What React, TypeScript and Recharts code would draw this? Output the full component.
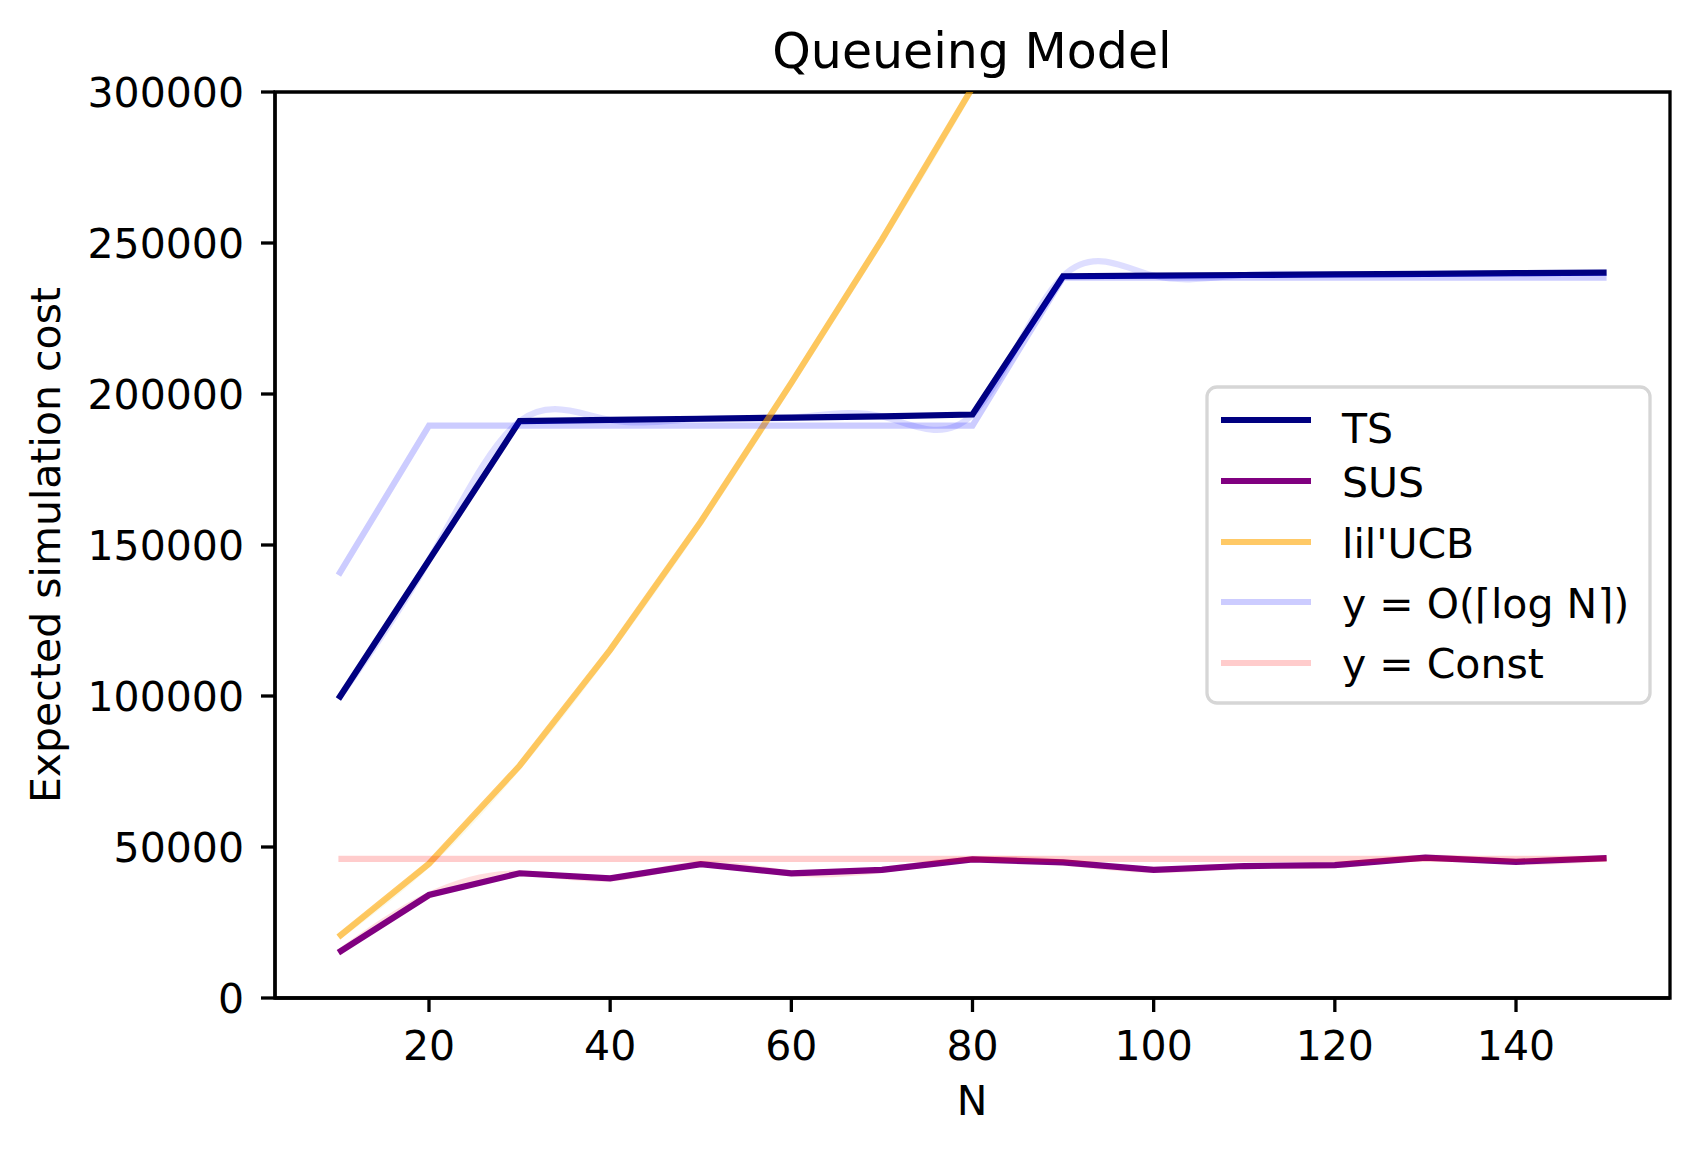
import { LineChart, Line, XAxis, YAxis, ReferenceArea } from 'recharts';

// N values on the x axis
const nValues = [10, 20, 30, 40, 50, 60, 70, 80, 90, 100, 110, 120, 130, 140, 150];

// expected simulation cost per method
const tsCost = [99000, 145000, 191000, 191400, 191800, 192200, 192600, 193200, 239000, 239200, 239400, 239600, 239800, 240000, 240200];
const susCost = [15000, 34100, 41300, 39600, 44300, 41300, 42400, 45900, 44900, 42400, 43700, 44000, 46500, 45100, 46300];
const ucbCost = [20200, 44500, 76900, 115300, 157700, 203700, 251100, 301500, 356000, 412000, 470000, 530000, 592000, 656000, 722000];

// reference curves
const logBound = [140000, 189500, 189500, 189500, 189500, 189500, 189500, 189500, 238500, 238500, 238500, 238500, 238500, 238500, 238500];
const constBound = [46100, 46100, 46100, 46100, 46100, 46100, 46100, 46100, 46100, 46100, 46100, 46100, 46100, 46100, 46100];

const xTicks = [20, 40, 60, 80, 100, 120, 140];
const yTicks = [0, 50000, 100000, 150000, 200000, 250000, 300000];

const data = nValues.map((n, i) => ({
  n,
  ts: tsCost[i],
  sus: susCost[i],
  ucb: ucbCost[i],
  logN: logBound[i],
  constant: constBound[i],
}));

const FONT = '"DejaVu Sans", Verdana, sans-serif';
const LW = 6.2;

const legendItems = [
  { label: 'TS', color: '#000080', opacity: 1, lineY: 420, textY: 443 },
  { label: 'SUS', color: '#800080', opacity: 1, lineY: 481, textY: 497 },
  { label: "lil'UCB", color: '#ffa500', opacity: 0.6, lineY: 542, textY: 558 },
  { label: 'y = O(\u2308log N\u2309)', color: '#0000ff', opacity: 0.2, lineY: 602, textY: 618 },
  { label: 'y = Const', color: '#ff0000', opacity: 0.2, lineY: 663, textY: 678 },
];

export default function App() {
  const tick = { fill: '#000', fontSize: 41, fontFamily: FONT };
  return (
    <div style={{ position: 'absolute', left: 0, top: 0, width: 1699, height: 1154, background: '#fff' }}>
      <LineChart
        width={1699}
        height={1154}
        data={data}
        margin={{ top: 92, right: 29, left: 75, bottom: 56 }}
      >
        <XAxis
          type="number"
          dataKey="n"
          domain={[3, 157]}
          ticks={xTicks}
          interval={0}
          allowDataOverflow
          height={100}
          tick={tick}
          tickSize={14}
          tickMargin={19}
          axisLine={{ stroke: '#000', strokeWidth: 3.3 }}
          tickLine={{ stroke: '#000', strokeWidth: 3.3 }}
        />
        <YAxis
          type="number"
          domain={[0, 300000]}
          ticks={yTicks}
          interval={0}
          allowDataOverflow
          width={200}
          tick={tick}
          tickSize={14}
          tickMargin={17}
          axisLine={{ stroke: '#000', strokeWidth: 3.3 }}
          tickLine={{ stroke: '#000', strokeWidth: 3.3 }}
        />
        {/* faint smoothed versions, underneath */}
        <Line type="natural" dataKey="ts" stroke="#0000ff" strokeOpacity={0.13} strokeWidth={LW} dot={false} activeDot={false} isAnimationActive={false} />
        <Line type="natural" dataKey="sus" stroke="#ff0000" strokeOpacity={0.13} strokeWidth={LW} dot={false} activeDot={false} isAnimationActive={false} />
        <Line type="natural" dataKey="ucb" stroke="#bfbf00" strokeOpacity={0.08} strokeWidth={LW} dot={false} activeDot={false} isAnimationActive={false} />
        {/* main series */}
        <Line type="linear" dataKey="ts" stroke="#000080" strokeWidth={LW} dot={false} activeDot={false} isAnimationActive={false} />
        <Line type="linear" dataKey="sus" stroke="#800080" strokeWidth={LW} dot={false} activeDot={false} isAnimationActive={false} />
        <Line type="linear" dataKey="ucb" stroke="#ffa500" strokeOpacity={0.6} strokeWidth={LW} dot={false} activeDot={false} isAnimationActive={false} />
        {/* bounds */}
        <Line type="linear" dataKey="logN" stroke="#0000ff" strokeOpacity={0.2} strokeWidth={LW} dot={false} activeDot={false} isAnimationActive={false} />
        <Line type="linear" dataKey="constant" stroke="#ff0000" strokeOpacity={0.2} strokeWidth={LW} dot={false} activeDot={false} isAnimationActive={false} />
        {/* frame */}
        <ReferenceArea x1={3} x2={157} y1={0} y2={300000} fill="none" stroke="#000" strokeWidth={3.3} fillOpacity={0} />
      </LineChart>

      <svg
        width={1699}
        height={1154}
        style={{ position: 'absolute', left: 0, top: 0, pointerEvents: 'none' }}
        fontFamily={FONT}
      >
        <text x={972} y={68} fontSize={49} textAnchor="middle" fill="#000">Queueing Model</text>
        <text x={972} y={1115} fontSize={41} textAnchor="middle" fill="#000">N</text>
        <text x={60} y={545} fontSize={41} textAnchor="middle" fill="#000" transform="rotate(-90 60 545)">
          Expected simulation cost
        </text>

        <rect x={1207} y={387} width={443} height={316} rx={10} ry={10} fill="#fff" fillOpacity={0.8} stroke="#d6d6d6" strokeWidth={3.3} />
        {legendItems.map((item) => (
          <g key={item.label}>
            <line x1={1221} x2={1311} y1={item.lineY} y2={item.lineY} stroke={item.color} strokeOpacity={item.opacity} strokeWidth={LW} />
            <text x={1342} y={item.textY} fontSize={41} fill="#000">{item.label}</text>
          </g>
        ))}
      </svg>
    </div>
  );
}
